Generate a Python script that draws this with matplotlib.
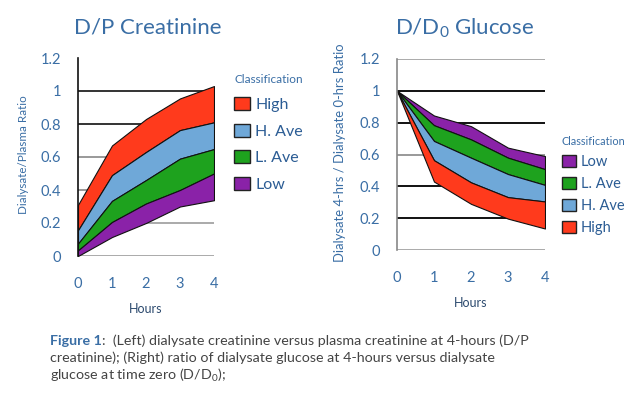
import matplotlib
matplotlib.use("Agg")
import matplotlib.pyplot as plt
from matplotlib.patches import Patch

plt.rcParams['font.family'] = ['Lato', 'DejaVu Sans']
plt.rcParams['mathtext.default'] = 'regular'

# ------------ data -----------------
hours = [0, 1, 2, 3, 4]

# D/P creatinine, band edges from top to bottom
cr_high_top = [0.31, 0.67, 0.83, 0.955, 1.03]
cr_have_top = [0.156, 0.49, 0.63, 0.763, 0.81]
cr_lave_top = [0.075, 0.334, 0.46, 0.59, 0.648]
cr_low_top = [0.034, 0.206, 0.318, 0.40, 0.50]
cr_low_bot = [0.0, 0.115, 0.20, 0.30, 0.338]

# D/D0 glucose, band edges from top to bottom
gl_low_top = [1.0, 0.845, 0.778, 0.643, 0.59]
gl_lave_top = [1.0, 0.784, 0.695, 0.58, 0.508]
gl_have_top = [1.0, 0.685, 0.58, 0.477, 0.409]
gl_high_top = [1.0, 0.564, 0.425, 0.332, 0.305]
gl_high_bot = [1.0, 0.43, 0.29, 0.197, 0.135]

yticks = [0, 0.2, 0.4, 0.6, 0.8, 1, 1.2]
ytick_labels = ["0", "0.2", "0.4", "0.6", "0.8", "1", "1.2"]

RED = "#ff3a1c"
BLUE = "#6fa8d8"
GREEN = "#1ea21e"
PURPLE = "#8a22a8"
TXT = "#3a6ea5"
LEGTXT = "#2b5c94"

W, H = 627, 399
fig = plt.figure(figsize=(6.27, 3.99), dpi=100)

def setup(ax, grid_cols, spine_col):
    ax.set_xlim(0, 4)
    ax.set_ylim(0, 1.2)
    for s in ["top", "right", "bottom"]:
        ax.spines[s].set_visible(False)
    ax.spines["left"].set_color(spine_col)
    ax.spines["left"].set_linewidth(1.2)
    for y, c in zip(yticks, grid_cols):
        if c:
            ax.axhline(y, color=c, lw=1.4, zorder=1)
    ax.set_yticks(yticks)
    ax.set_yticklabels(ytick_labels)
    ax.set_xticks(hours)
    ax.tick_params(length=0, labelsize=10.5, labelcolor=TXT)
    ax.tick_params(axis="x", pad=15)
    ax.tick_params(axis="y", pad=12)
    ax.set_xlabel("Hours", fontsize=9, color="#2c4a6e", labelpad=9)

def band(ax, top, bot, col):
    ax.fill_between(hours, bot, top, facecolor=col, edgecolor="#111111",
                    linewidth=0.8, zorder=2)

def legend(handles, anchor, size, tsize, spacing):
    leg = fig.legend(handles=handles, loc="upper left", bbox_to_anchor=anchor,
                     frameon=False, fontsize=size, title="Classification",
                     title_fontsize=tsize, handlelength=1.0, handleheight=0.9,
                     handletextpad=0.3, labelspacing=spacing, borderaxespad=0,
                     labelcolor=LEGTXT)
    leg.get_title().set_color(TXT)
    leg._legend_box.align = "left"
    return leg

# ------------ left: D/P creatinine ------------
ax1 = fig.add_axes([78 / W, 1 - 256 / H, 136 / W, 198 / H])
setup(ax1, ["#aaaaaa", "#aaaaaa", "#999999", "#999999", "#333333", "#333333", None], "#111111")
band(ax1, cr_high_top, cr_have_top, RED)
band(ax1, cr_have_top, cr_lave_top, BLUE)
band(ax1, cr_lave_top, cr_low_top, GREEN)
band(ax1, cr_low_top, cr_low_bot, PURPLE)
ax1.set_ylabel("Dialysate/Plasma Ratio", fontsize=8.4, color=TXT)
ax1.yaxis.set_label_coords(-0.36, 0.51)
fig.text(148 / W, 1 - 28 / H, "D/P Creatinine", fontsize=16, color=TXT, ha="center", va="center")

h1 = [Patch(facecolor=RED, edgecolor="#222222", label="High"),
      Patch(facecolor=BLUE, edgecolor="#222222", label="H. Ave"),
      Patch(facecolor=GREEN, edgecolor="#222222", label="L. Ave"),
      Patch(facecolor=PURPLE, edgecolor="#222222", label="Low")]
legend(h1, (228 / W, 1 - 68 / H), 11.5, 8.5, 0.72)

# ------------ right: D/D0 glucose ------------
ax2 = fig.add_axes([397 / W, 1 - 250 / H, 148 / W, 191 / H])
setup(ax2, ["#aaaaaa", "#111111", "#111111", "#999999", "#111111", "#111111", "#aaaaaa"], "#888888")
band(ax2, gl_low_top, gl_lave_top, PURPLE)
band(ax2, gl_lave_top, gl_have_top, GREEN)
band(ax2, gl_have_top, gl_high_top, BLUE)
band(ax2, gl_high_top, gl_high_bot, RED)
ax2.set_ylabel("Dialysate 4-hrs / Dialysate 0-hrs Ratio", fontsize=9.4, color=TXT)
ax2.yaxis.set_label_coords(-0.345, 0.51)
fig.text(465 / W, 1 - 28 / H, "D/D$_0$ Glucose", fontsize=16, color=TXT, ha="center", va="center")

h2 = [Patch(facecolor=PURPLE, edgecolor="#222222", label="Low"),
      Patch(facecolor=GREEN, edgecolor="#222222", label="L. Ave"),
      Patch(facecolor=BLUE, edgecolor="#222222", label="H. Ave"),
      Patch(facecolor=RED, edgecolor="#222222", label="High")]
legend(h2, (556 / W, 1 - 130 / H), 10.5, 7.8, 0.55)

# ------------ caption ------------
CAP = 10.3
x0 = 50 / W
t = fig.text(x0, 1 - 341 / H, "Figure 1", fontsize=CAP, color=TXT, fontweight="bold", va="center")
fig.canvas.draw()
bb = t.get_window_extent(fig.canvas.get_renderer())
fig.text(bb.x1 / W, 1 - 341 / H, ":  (Left) dialysate creatinine versus plasma creatinine at 4-hours (D/P",
         fontsize=CAP, color="#444444", va="center")
fig.text(x0, 1 - 358 / H, "creatinine); (Right) ratio of dialysate glucose at 4-hours versus dialysate",
         fontsize=CAP, color="#444444", va="center")
fig.text(x0, 1 - 375 / H, "glucose at time zero (D/D$_0$);", fontsize=CAP, color="#444444", va="center")

fig.savefig("out.png", dpi=100)
